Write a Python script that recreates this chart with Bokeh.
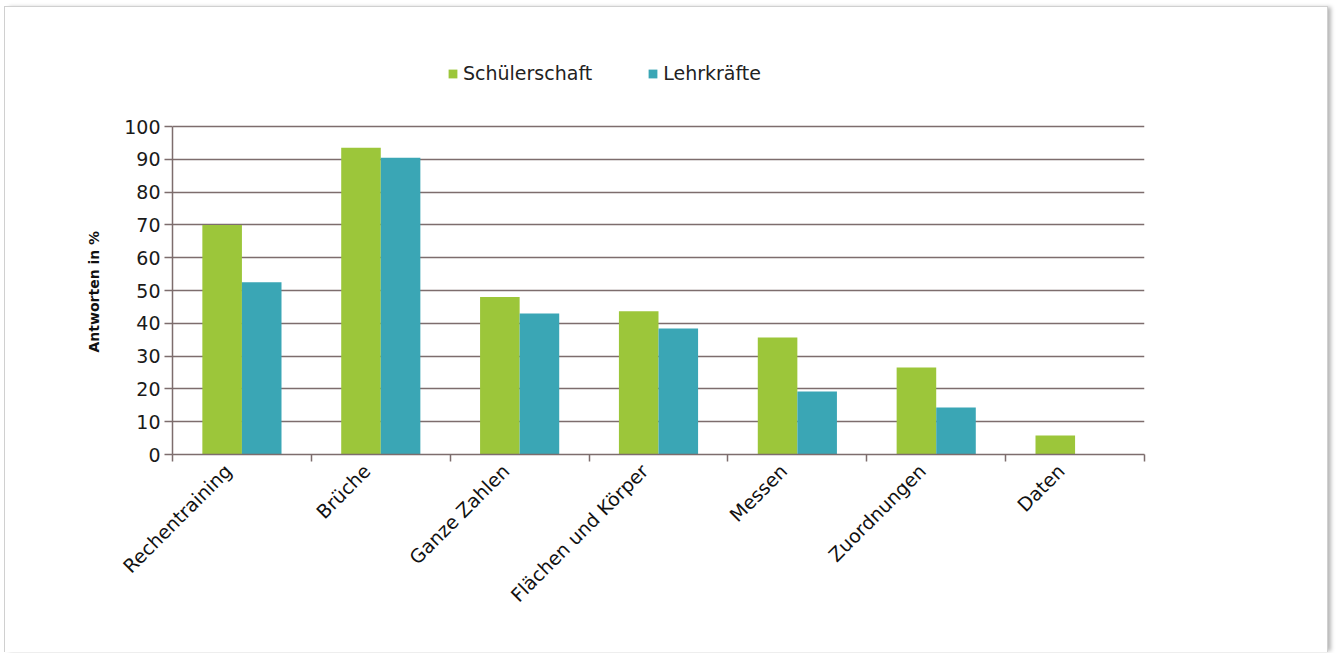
from math import pi
from bokeh.plotting import figure
from bokeh.models import (Range1d, LinearAxis, FixedTicker, Title,
                          ColumnDataSource, Legend, LegendItem)
from bokeh.transform import dodge
from bokeh.embed import file_html
from bokeh.resources import INLINE

categories = ["Rechentraining", "Brüche", "Ganze Zahlen", "Flächen und Körper",
              "Messen", "Zuordnungen", "Daten"]
schuelerschaft = [70, 93.5, 48, 43.7, 35.7, 26.5, 5.8]
lehrkraefte = [52.5, 90.5, 43, 38.4, 19.2, 14.3, 0]
y_ticks = [0, 10, 20, 30, 40, 50, 60, 70, 80, 90, 100]

GREEN = "#9cc63a"
BLUE = "#3aa6b5"
GRID = "#7d6d6d"
FONT = "DejaVu Sans"
Y_MAX = 124.4        # headroom above 100 holds the legend
LABEL_SHIFT = 0.1    # category labels end slightly left of the group centre

n = len(categories)
centers = [i + 0.5 for i in range(n)]
label_ticks = [c - LABEL_SHIFT for c in centers]
src = ColumnDataSource(dict(pos=centers, cat=categories, s=schuelerschaft, l=lehrkraefte))

p = figure(width=1324, height=646, x_range=Range1d(0, n),
           y_range=Range1d(0, Y_MAX), output_backend="svg", toolbar_location=None,
           x_axis_location=None, y_axis_location=None,
           min_border_left=167, min_border_right=185, min_border_top=39, min_border_bottom=199,
           background_fill_color="white", border_fill_color="white", outline_line_color=None)
p.styles = {"border": "1px solid #d0d0d0", "border-bottom": "none",
            "box-shadow": "4px 0 4px -1px #b8b8b8", "margin-left": "4px", "margin-top": "6px"}

r1 = p.vbar(x=dodge("pos", -0.1425), top="s", width=0.285, source=src,
            fill_color=GREEN, line_color=None)
r2 = p.vbar(x=dodge("pos", 0.1425), top="l", width=0.285, source=src,
            fill_color=BLUE, line_color=None)

# y axis
yax = LinearAxis(ticker=FixedTicker(ticks=y_ticks), bounds=(0, 100))
yax.axis_line_color = GRID
yax.axis_line_width = 1.5
yax.major_tick_line_color = GRID
yax.major_tick_line_width = 1.5
yax.major_tick_in = 0
yax.major_tick_out = 8
yax.minor_tick_line_color = None
yax.major_label_text_font = FONT
yax.major_label_text_font_size = "19px"
yax.major_label_text_color = "#1a1a1a"
yax.major_label_standoff = 4
p.add_layout(yax, "left")

ytitle = Title(text="Antworten in %", align="left", offset=102, standoff=40,
               text_font=FONT, text_font_style="bold", text_font_size="14px",
               text_color="#111111")
p.add_layout(ytitle, "left")

# x axis: tick marks at category boundaries
xt = LinearAxis(ticker=FixedTicker(ticks=list(range(n + 1))))
xt.axis_line_color = GRID
xt.axis_line_width = 1.5
xt.major_tick_line_color = GRID
xt.major_tick_line_width = 1.5
xt.major_tick_in = 0
xt.major_tick_out = 7
xt.minor_tick_line_color = None
xt.major_label_text_font_size = "0px"
xt.major_label_standoff = 0
p.add_layout(xt, "below")

# x axis: category labels
xc = LinearAxis(ticker=FixedTicker(ticks=label_ticks),
                major_label_overrides={t: name for t, name in zip(label_ticks, categories)})
xc.axis_line_color = None
xc.major_tick_line_color = None
xc.minor_tick_line_color = None
xc.major_label_orientation = pi / 4
xc.major_label_text_font = FONT
xc.major_label_text_font_size = "19px"
xc.major_label_text_color = "#111111"
xc.major_label_standoff = 0
p.add_layout(xc, "below")

p.ygrid.ticker = FixedTicker(ticks=y_ticks)
p.ygrid.grid_line_color = GRID
p.ygrid.grid_line_width = 1.5
p.xgrid.grid_line_color = None

legend = Legend(items=[LegendItem(label="Schülerschaft", renderers=[r1]),
                       LegendItem(label="Lehrkräfte", renderers=[r2])],
                orientation="horizontal", location=(275, 370),
                glyph_width=11, glyph_height=11, spacing=55, padding=0, margin=0,
                label_text_font=FONT, label_text_font_size="19px", label_text_color="#222222",
                label_standoff=5, border_line_color=None, background_fill_alpha=0)
p.add_layout(legend, "center")

open("out.html", "w").write(file_html(p, INLINE))
